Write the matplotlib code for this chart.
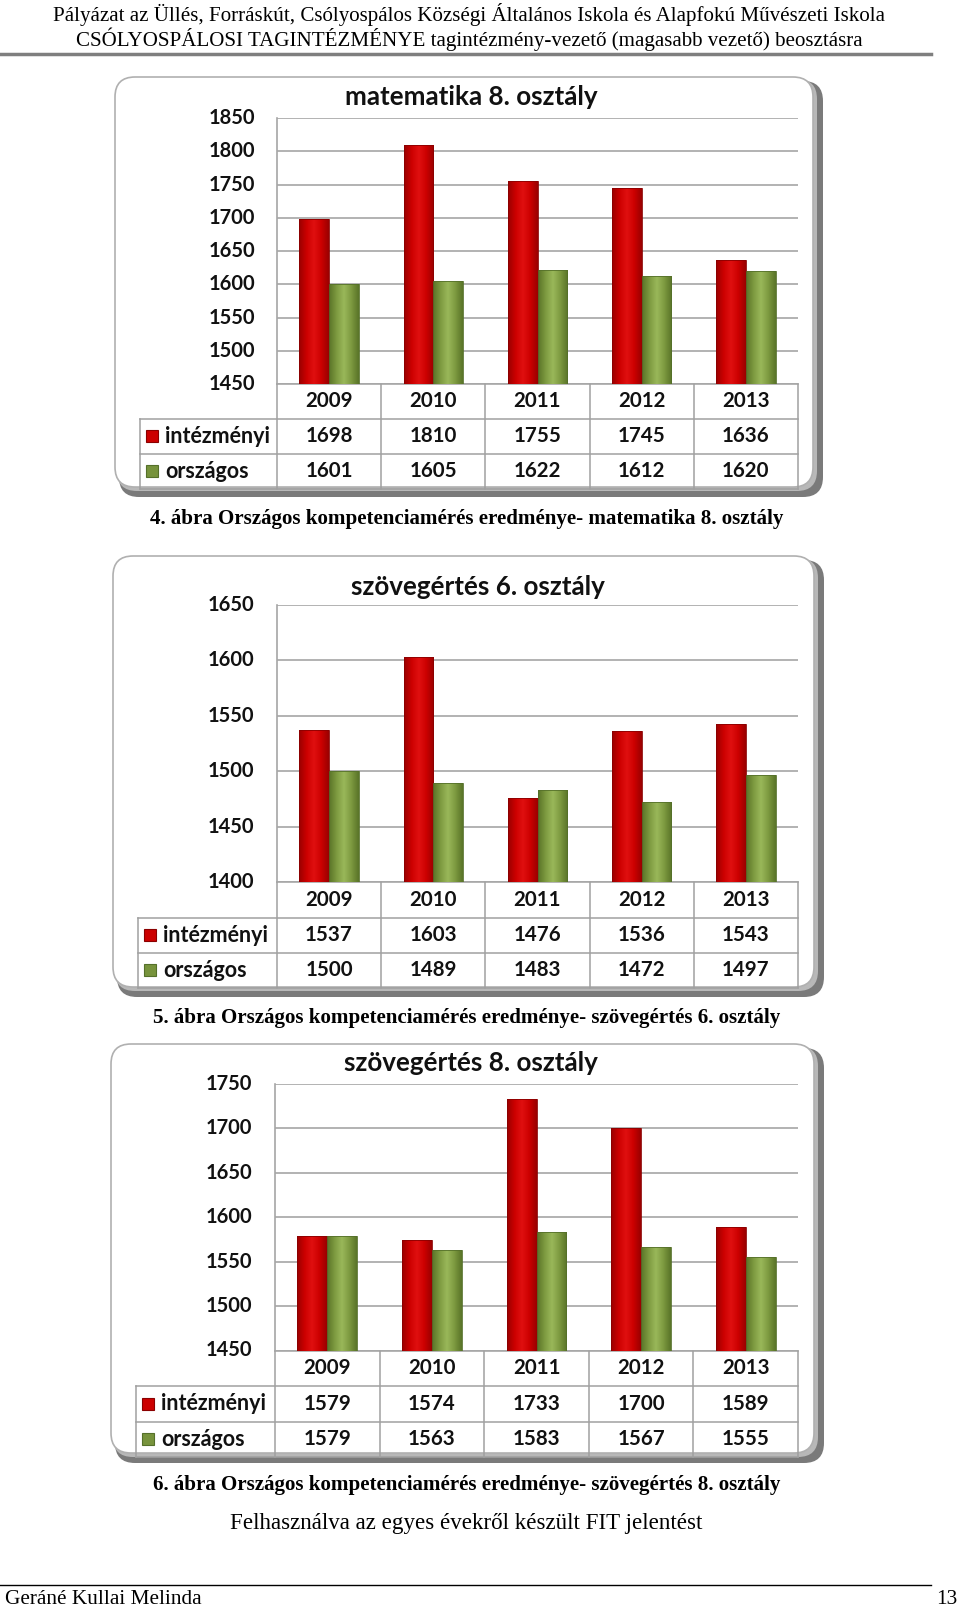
"""
Országos kompetenciamérés eredményei: three bar charts with data tables below.
"""

import numpy as np
import matplotlib.pyplot as plt
from matplotlib.patches import FancyBboxPatch, Rectangle
from matplotlib.colors import LinearSegmentedColormap

# Data
years = ['2009', '2010', '2011', '2012', '2013']

math8_inst = [1698, 1810, 1755, 1745, 1636]
math8_nat = [1601, 1605, 1622, 1612, 1620]

read6_inst = [1537, 1603, 1476, 1536, 1543]
read6_nat = [1500, 1489, 1483, 1472, 1497]

read8_inst = [1579, 1574, 1733, 1700, 1589]
read8_nat = [1579, 1563, 1583, 1567, 1555]

series_names = ['intézményi', 'országos']
titles = ['matematika 8. osztály', 'szövegértés 6. osztály', 'szövegértés 8. osztály']
captions = [
    '4. ábra Országos kompetenciamérés eredménye- matematika 8. osztály',
    '5. ábra Országos kompetenciamérés eredménye- szövegértés 6. osztály',
    '6. ábra Országos kompetenciamérés eredménye- szövegértés 8. osztály',
]

W, H = 960, 1609
fig = plt.figure(figsize=(W / 100, H / 100), dpi=100)
fig.patch.set_facecolor('white')

# background axes in pixel coordinates (y downward)
bg = fig.add_axes([0, 0, 1, 1], zorder=0)
bg.set_xlim(0, W)
bg.set_ylim(H, 0)
bg.axis('off')

SANS = 'Lato'
SERIF = 'Liberation Serif'
RED = '#cc0000'
GREEN = '#77933c'
GRID = '#a6a6a6'


def px_axes(x0, y0, x1, y1):
    return fig.add_axes([x0 / W, 1 - y1 / H, (x1 - x0) / W, (y1 - y0) / H], zorder=2)


def shaded_bar(ax, patch, dark, mid, light):
    # horizontal gradient clipped to the bar
    x, y = patch.get_x(), patch.get_y()
    w, h = patch.get_width(), patch.get_height()
    cmap = LinearSegmentedColormap.from_list('b', [dark, mid, light, mid, dark])
    grad = np.linspace(0, 1, 64).reshape(1, -1)
    im = ax.imshow(grad, cmap=cmap, extent=[x, x + w, y, y + h], aspect='auto',
                   zorder=3, interpolation='bicubic')
    im.set_clip_path(patch)
    patch.set_facecolor('none')


def frame(x0, y0, x1, y1):
    r = 20
    bg.add_patch(FancyBboxPatch((x0 + 4, y0 + 4), x1 - x0 - 4, y1 - y0 - 4,
                                boxstyle=f'round,pad=0,rounding_size={r}',
                                fc='#7a7a7a', ec='none', zorder=1))
    bg.add_patch(FancyBboxPatch((x0 + 2, y0 + 2), x1 - x0 - 8, y1 - y0 - 8,
                                boxstyle=f'round,pad=0,rounding_size={r}',
                                fc='#b8b8b8', ec='none', zorder=1.5))
    bg.add_patch(FancyBboxPatch((x0, y0), x1 - x0 - 10, y1 - y0 - 10,
                                boxstyle=f'round,pad=0,rounding_size={r}',
                                fc='white', ec='#b0b0b0', lw=1.2, zorder=2))


def chart(box, plot, rows_y, tab_left, tick_x, title_xy, ylim, inst, nat, title):
    frame(*box)
    px0, py0, px1, py1 = plot
    ax = px_axes(px0, py0, px1, py1)
    ax.set_facecolor('none')
    ax.set_xlim(-0.5, 4.5)
    ax.set_ylim(*ylim)
    ticks = np.arange(ylim[0], ylim[1] + 1, 50)
    for t in ticks:
        ax.axhline(t, color=GRID, lw=1.2, zorder=1)
    for s in ['top', 'right', 'bottom']:
        ax.spines[s].set_visible(False)
    ax.spines['left'].set_color(GRID)
    ax.spines['left'].set_linewidth(1.2)
    ax.set_xticks([])
    ax.set_yticks([])

    x = np.arange(len(years))
    bw = 0.285
    b1 = ax.bar(x - bw / 2, np.array(inst) - ylim[0], bw, bottom=ylim[0],
                color=RED, edgecolor='#8a0000', lw=0.6, zorder=4)
    b2 = ax.bar(x + bw / 2, np.array(nat) - ylim[0], bw, bottom=ylim[0],
                color=GREEN, edgecolor='#55702a', lw=0.6, zorder=4)
    for p in b1:
        shaded_bar(ax, p, '#9a0000', '#cc0000', '#e01010')
    for p in b2:
        shaded_bar(ax, p, '#5a7428', '#7d9a40', '#9ab85a')

    # tick labels in pixel space
    for t in ticks:
        ypix = py1 - (t - ylim[0]) / (ylim[1] - ylim[0]) * (py1 - py0)
        bg.text(tick_x, ypix, str(t), ha='right', va='center', fontsize=14.5,
                fontweight='bold', family=SANS, color='#111111', zorder=5)

    bg.text(title_xy[0], title_xy[1], title, ha='center', va='center',
            fontsize=18.7, fontweight='bold', family=SANS, color='#111111', zorder=5)

    # data table
    r0, r1, r2, r3 = rows_y
    colw = (px1 - px0) / len(years)
    lc = dict(color='#a0a0a0', lw=1.1, zorder=5)
    for k in range(len(years) + 1):
        xx = px0 + k * colw
        bg.plot([xx, xx], [r0, r3], **lc)
    bg.plot([px0, px1], [r0, r0], **lc)
    for yy in (r1, r2, r3):
        bg.plot([tab_left, px1], [yy, yy], **lc)
    bg.plot([tab_left, tab_left], [r1, r3], **lc)

    tkw = dict(ha='center', va='center', fontsize=14.8, fontweight='bold',
               family=SANS, color='#111111', zorder=6)
    for k, yr in enumerate(years):
        cx = px0 + (k + 0.5) * colw
        bg.text(cx, (r0 + r1) / 2, yr, **tkw)
        bg.text(cx, (r1 + r2) / 2, str(inst[k]), **tkw)
        bg.text(cx, (r2 + r3) / 2, str(nat[k]), **tkw)

    for name, (ya, yb), col, ec in zip(series_names, [(r1, r2), (r2, r3)],
                                        [RED, GREEN], ['#8a0000', '#55702a']):
        cy = (ya + yb) / 2
        bg.add_patch(Rectangle((tab_left + 6, cy - 6), 12, 12, fc=col, ec=ec,
                               lw=0.8, zorder=6))
        bg.text(tab_left + 25, cy, name, ha='left', va='center', fontsize=15.5,
                fontweight='bold', family=SANS, color='#111111', zorder=6)


chart((115, 77, 823, 497), (277, 118, 798, 384), (384, 418.5, 453.5, 488.5),
      140, 255, (471, 97), (1450, 1850), math8_inst, math8_nat, titles[0])
chart((113, 556, 824, 997), (277, 605, 798, 882), (882, 917.5, 952.5, 988),
      138, 254, (478, 587), (1400, 1650), read6_inst, read6_nat, titles[1])
chart((111, 1044, 824, 1463), (275, 1084, 798, 1350.5), (1350.5, 1386, 1421.5, 1457),
      136, 252, (471, 1063), (1450, 1750), read8_inst, read8_nat, titles[2])

# page header
bg.text(469, 14, 'Pályázat az Üllés, Forráskút, Csólyospálos Községi Általános Iskola és Alapfokú Művészeti Iskola',
        ha='center', va='center', fontsize=15.1, family=SERIF, color='black')
bg.text(469, 39, 'CSÓLYOSPÁLOSI TAGINTÉZMÉNYE tagintézmény-vezető (magasabb vezető) beosztásra',
        ha='center', va='center', fontsize=15.1, family=SERIF, color='black')
bg.plot([0, 931], [53.5, 53.5], color='#7f7f7f', lw=2.5)

# captions
for yy, cap in zip([519, 1018, 1485], captions):
    bg.text(467, yy, cap, ha='center', va='center', fontsize=15.1,
            fontweight='bold', family=SERIF, color='black')
bg.text(466, 1523, 'Felhasználva az egyes évekről készült FIT jelentést',
        ha='center', va='center', fontsize=16.6, family=SERIF, color='black')

# footer
bg.plot([0, 931], [1585, 1585], color='black', lw=1)
bg.text(5, 1599, 'Geráné Kullai Melinda', ha='left', va='center', fontsize=15.3,
        family=SERIF, color='black')
bg.text(957, 1599, '13', ha='right', va='center', fontsize=15.3,
        family=SERIF, color='black')

fig.savefig('out.png', dpi=100)
plt.close(fig)
